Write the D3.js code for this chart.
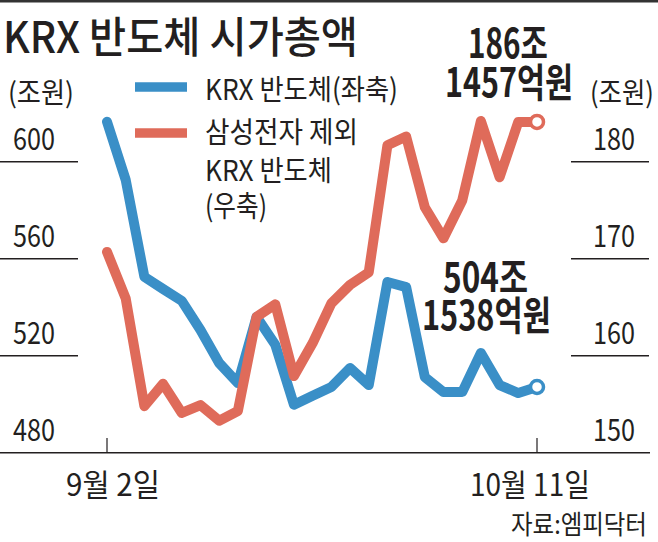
<!DOCTYPE html>
<html>
<head>
<meta charset="utf-8">
<script src="https://cdn.jsdelivr.net/npm/d3@7"></script>
<style>
  body { margin: 0; background: #fff; }
  text { font-family: "Noto Sans CJK KR", "Noto Sans", sans-serif; fill: #231f20; }
</style>
</head>
<body>
<div id="chart"></div>
<script>
// trading days, 9/2 ~ 10/11
const dates = [
  "2024-09-02", "2024-09-03", "2024-09-04", "2024-09-05", "2024-09-06",
  "2024-09-09", "2024-09-10", "2024-09-11", "2024-09-12", "2024-09-13",
  "2024-09-19", "2024-09-20",
  "2024-09-23", "2024-09-24", "2024-09-25", "2024-09-26", "2024-09-27",
  "2024-09-30", "2024-10-02", "2024-10-04",
  "2024-10-07", "2024-10-08", "2024-10-10", "2024-10-11"
];
// KRX 반도체 (left axis, 조원)
const krxValues = [
  616.5, 592.5, 552.5, 547.5, 542.6, 530.6, 517.0, 508.7, 536.0, 524.5,
  499.8, 503.5, 507.1, 514.9, 507.9, 550.4, 548.3, 511.2, 505.0, 505.0,
  521.1, 507.9, 504.6, 507.1
];
// 삼성전자 제외 KRX 반도체 (right axis, 조원)
const exSamsungValues = [
  170.7, 165.9, 154.8, 157.1, 154.1, 154.9, 153.3, 154.3, 164.0, 165.3,
  157.9, 161.3, 165.4, 167.3, 168.6, 181.7, 182.6, 175.3, 172.1, 176.0,
  184.2, 178.4, 184.1, 184.1
];
const leftTicks = [600, 560, 520, 480];
const rightTicks = [180, 170, 160, 150];
const xTickLabels = ["9월 2일", "10월 11일"];

const W = 658, H = 542;
const blue = "#3a8fc7";
const red = "#df6b5a";
const ink = "#231f20";

const svg = d3.select("#chart")
  .append("svg")
  .attr("width", W)
  .attr("height", H);

const x = d3.scalePoint().domain(dates).range([107, 537]);
const yL = d3.scaleLinear().domain([480, 600]).range([452.7, 161.7]);
const yR = d3.scaleLinear().domain([150, 180]).range([452.7, 161.7]);

// text helper: squeezes text horizontally to mimic the condensed newspaper font
function label(txt, px, py, size, len, opts = {}) {
  const t = svg.append("text")
    .attr("font-size", size)
    .attr("font-weight", opts.weight || 400)
    .text(txt);
  const natural = t.node().getComputedTextLength();
  const sx = len ? len / natural : 1;
  t.attr("transform", `translate(${px},${py}) scale(${sx},1)`);
  return t;
}

// top rule
svg.append("rect").attr("x", 0).attr("y", 0).attr("width", W).attr("height", 2.5).attr("fill", "#333");

label("KRX 반도체 시가총액", 3, 53, 43, 355, { weight: 500 });

// units
label("(조원)", 8, 103, 28, 66);
label("(조원)", 590, 103, 28, 64);

// short grid segments
svg.selectAll(".gl")
  .data(leftTicks.slice(0, 3))
  .join("line")
  .attr("x1", 0).attr("x2", 78)
  .attr("y1", d => yL(d)).attr("y2", d => yL(d))
  .attr("stroke", ink).attr("stroke-width", 1.5);

svg.selectAll(".gr")
  .data(rightTicks.slice(0, 3))
  .join("line")
  .attr("x1", 571).attr("x2", 649)
  .attr("y1", d => yR(d)).attr("y2", d => yR(d))
  .attr("stroke", ink).attr("stroke-width", 1.5);

leftTicks.forEach(t => label(String(t), 13, yL(t) - 12, 31, 42));
rightTicks.forEach(t => label(String(t), 593, yR(t) - 12, 31, 42));

// base axis
svg.append("line")
  .attr("x1", 0).attr("x2", 650)
  .attr("y1", 452.7).attr("y2", 452.7)
  .attr("stroke", ink).attr("stroke-width", 1.5);

const firstLast = [dates[0], dates[dates.length - 1]];
svg.selectAll(".xt")
  .data(firstLast)
  .join("line")
  .attr("x1", d => x(d)).attr("x2", d => x(d))
  .attr("y1", 438).attr("y2", 452.7)
  .attr("stroke", ink).attr("stroke-width", 1.2);

label(xTickLabels[0], 66, 496, 31, 94);
label(xTickLabels[1], 470, 496, 31, 120);

label("자료:엠피닥터", 511, 534, 26, 136);

// legend
svg.append("line").attr("x1", 135).attr("x2", 187).attr("y1", 87).attr("y2", 87)
  .attr("stroke", blue).attr("stroke-width", 9.5);
svg.append("line").attr("x1", 135).attr("x2", 187).attr("y1", 133).attr("y2", 133)
  .attr("stroke", red).attr("stroke-width", 9.5);
label("KRX 반도체(좌축)", 205, 100, 29, 193);
label("삼성전자 제외", 205, 143, 29, 153);
label("KRX 반도체", 205, 181, 29, 127);
label("(우축)", 205, 217, 29, 62);

// lines
const lineL = d3.line().x((d, i) => x(dates[i])).y(d => yL(d));
const lineR = d3.line().x((d, i) => x(dates[i])).y(d => yR(d));

svg.append("path")
  .attr("d", lineL(krxValues))
  .attr("fill", "none")
  .attr("stroke", blue)
  .attr("stroke-width", 10)
  .attr("stroke-linejoin", "round")
  .attr("stroke-linecap", "round");

svg.append("path")
  .attr("d", lineR(exSamsungValues))
  .attr("fill", "none")
  .attr("stroke", red)
  .attr("stroke-width", 10)
  .attr("stroke-linejoin", "round")
  .attr("stroke-linecap", "round");

const last = dates.length - 1;
svg.append("circle")
  .attr("cx", x(dates[last])).attr("cy", yL(krxValues[last])).attr("r", 6.5)
  .attr("fill", "#fff").attr("stroke", blue).attr("stroke-width", 3.5);
svg.append("circle")
  .attr("cx", x(dates[last])).attr("cy", yR(exSamsungValues[last])).attr("r", 6.5)
  .attr("fill", "#fff").attr("stroke", red).attr("stroke-width", 3.5);

// value callouts
label("186조", 468, 58, 40, 80, { weight: 700 });
label("1457억원", 445, 97, 40, 128, { weight: 700 });
label("504조", 443, 292, 40, 85, { weight: 700 });
label("1538억원", 422, 330, 40, 129, { weight: 700 });
</script>
</body>
</html>
